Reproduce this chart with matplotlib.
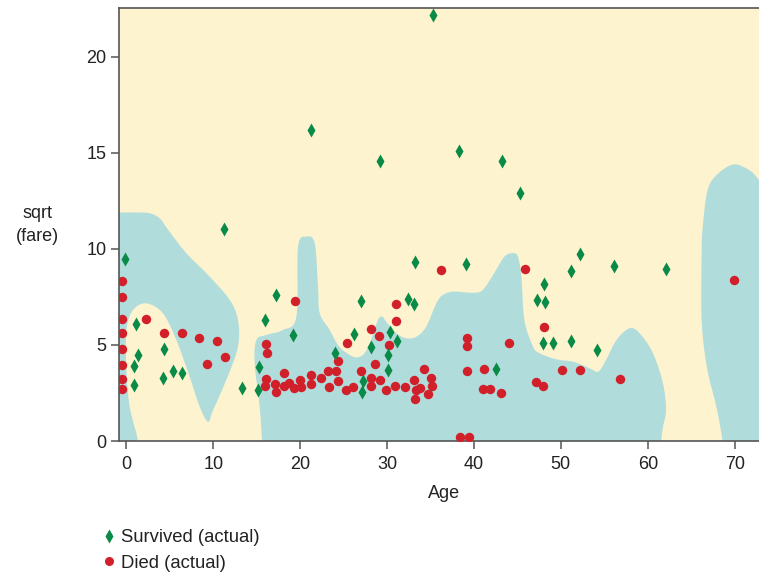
import matplotlib
matplotlib.use('Agg')
import matplotlib.pyplot as plt
from matplotlib.patches import PathPatch
from matplotlib.path import Path
from matplotlib.lines import Line2D
import numpy as np

plt.rcParams['font.family'] = ['Liberation Sans', 'DejaVu Sans']

# passengers: (age, sqrt(fare))
survived = [(-0.2, 9.5), (1.07, 6.1), (1.3, 4.5), (0.87, 3.9), (0.84, 2.9),
            (4.3, 4.8), (4.2, 3.3), (5.4, 3.66), (6.4, 3.56), (11.2, 11.05),
            (13.3, 2.74), (15.1, 2.66), (15.3, 3.87), (16.0, 6.3), (17.2, 7.6),
            (19.2, 5.5), (21.2, 16.2), (35.3, 22.2), (29.2, 14.6), (38.3, 15.1),
            (43.2, 14.6), (45.3, 12.9), (33.2, 9.34), (39.1, 9.2), (27.0, 7.28),
            (32.4, 7.41), (33.1, 7.15), (26.2, 5.57), (30.3, 5.66), (31.1, 5.22),
            (28.1, 4.91), (24.0, 4.58), (30.1, 4.48), (30.1, 3.7), (27.2, 3.13),
            (27.1, 2.55), (42.5, 3.73), (47.2, 7.34), (52.2, 9.74), (56.1, 9.11),
            (62.1, 8.94), (51.2, 8.84), (48.1, 8.18), (48.2, 7.22), (47.9, 5.1),
            (49.1, 5.09), (51.2, 5.21), (54.1, 4.74)]

died = [(-0.46, 8.33), (-0.46, 7.5), (-0.46, 6.34), (-0.46, 5.6), (-0.46, 4.78),
        (-0.46, 3.96), (-0.46, 3.21), (-0.46, 2.69), (2.3, 6.34), (4.3, 5.6),
        (6.4, 5.6), (8.35, 5.38), (10.4, 5.22), (9.24, 4.0), (11.3, 4.4),
        (19.4, 7.3), (16.1, 5.03), (16.2, 4.6), (16.1, 3.24), (16.0, 2.86),
        (17.1, 2.97), (17.2, 2.57), (18.1, 3.53), (18.1, 2.88), (18.7, 3.0),
        (19.25, 2.74), (20.0, 3.16), (20.1, 2.83), (21.2, 3.42), (21.2, 2.97),
        (22.4, 3.26), (23.2, 3.66), (23.3, 2.8), (36.2, 8.9), (45.9, 8.94),
        (31.0, 7.14), (31.0, 6.23), (28.1, 5.82), (29.1, 5.48), (25.4, 5.09),
        (30.2, 5.02), (24.4, 4.15), (28.65, 4.03), (24.1, 3.66), (27.0, 3.63),
        (34.2, 3.75), (35.1, 3.3), (24.3, 3.14), (25.3, 2.66), (26.1, 2.83),
        (28.2, 3.26), (28.2, 2.86), (29.2, 3.18), (29.9, 2.64), (30.9, 2.86),
        (32.1, 2.8), (33.1, 3.19), (33.3, 2.66), (33.8, 2.74), (33.2, 2.19),
        (34.7, 2.43), (35.2, 2.86), (39.2, 5.36), (39.2, 4.95), (39.2, 3.66),
        (41.2, 3.73), (41.0, 2.71), (41.8, 2.71), (43.1, 2.52), (44.0, 5.09),
        (47.1, 3.09), (38.35, 0.19), (39.4, 0.19), (69.9, 8.4), (48.1, 5.92),
        (50.1, 3.7), (52.2, 3.71), (47.9, 2.86), (56.8, 3.24)]

# predicted "died" regions (outline)
region_left = [(-4, -1), (1.45, -1), (1.34, 0.0), (0.38, 1.79), (0.0, 3.7),
               (0.0, 5.78), (0.76, 6.82), (2.3, 7.17), (4.2, 6.65), (5.75, 5.26),
               (7.28, 3.35), (8.43, 1.79), (9.39, 1.0), (9.97, 1.61), (11.5, 3.18),
               (12.84, 4.91), (12.84, 6.3), (11.9, 7.34), (9.59, 8.56), (6.9, 9.78),
               (4.8, 11.0), (3.83, 11.6), (2.68, 11.86), (1.2, 11.9), (-0.3, 11.9),
               (-1.5, 11.9), (-4, 11.9)]

region_middle = [(15.6, -1), (15.6, 0.0), (15.34, 1.79), (14.76, 4.05), (14.96, 5.26),
                 (16.1, 5.52), (18.0, 5.78), (19.56, 6.47), (19.75, 10.1), (20.7, 10.64),
                 (21.67, 10.3), (22.05, 8.04), (22.25, 6.65), (23.4, 5.78), (24.5, 4.91),
                 (26.1, 4.39), (27.2, 4.48), (28.0, 5.09), (28.95, 6.3), (29.46, 6.47),
                 (29.9, 6.21), (31.07, 5.61), (32.2, 5.35), (33.37, 5.43), (34.5, 5.95),
                 (35.67, 7.17), (36.4, 7.6), (37.6, 7.78), (39.9, 7.72), (41.0, 7.86),
                 (42.2, 8.65), (43.5, 9.6), (44.5, 9.78), (45.06, 9.6), (45.45, 8.56),
                 (45.8, 6.3), (46.8, 4.91), (47.56, 4.57), (49.5, 4.25), (51.4, 4.13),
                 (53.3, 3.79), (54.3, 3.61), (55.2, 4.22), (56.4, 5.26), (57.9, 5.87),
                 (59.07, 5.61), (60.6, 4.57), (61.75, 3.0), (62.1, 1.61), (61.75, 0.74),
                 (61.56, 0.0), (61.56, -1)]

region_right = [(68.6, -1), (68.6, 0.0), (67.9, 1.77), (66.8, 3.85), (66.2, 6.3),
                (66.2, 9.8), (66.3, 11.0), (66.8, 12.9), (67.7, 13.75), (69.8, 14.4),
                (71.7, 14.1), (72.8, 13.6), (75, 12.5), (75, -1)]

x_ticks = [0, 10, 20, 30, 40, 50, 60, 70]
y_ticks = [0, 5, 10, 15, 20]

TEAL = '#b0dcdc'
CREAM = '#fdf3cf'
GREEN = '#0a8a47'
RED = '#d2202a'
GREY = '#555555'
TEXT = '#222222'


def smooth_outline(points):
    # closed catmull-rom outline through the traced points, as bezier path
    pts = np.array(points, dtype=float)
    n = len(pts)
    verts = [pts[0]]
    codes = [Path.MOVETO]
    for i in range(n):
        p0, p1, p2, p3 = pts[i - 1], pts[i], pts[(i + 1) % n], pts[(i + 2) % n]
        verts += [p1 + (p2 - p0) / 6, p2 - (p3 - p1) / 6, p2]
        codes += [Path.CURVE4] * 3
    return Path(verts, codes)


fig = plt.figure(figsize=(7.59, 5.72), dpi=100)
ax = fig.add_axes([119 / 759, (572 - 441) / 572, 640 / 759, 433 / 572])
ax.set_facecolor(CREAM)

for region in (region_left, region_middle, region_right):
    ax.add_patch(PathPatch(smooth_outline(region), facecolor=TEAL,
                           edgecolor='none', zorder=0.5))

died = np.array(died)
survived = np.array(survived)
ax.plot(died[:, 0], died[:, 1], 'o', color=RED, ms=6.8, mec='none', zorder=3)
ax.plot(survived[:, 0], survived[:, 1], 'd', color=GREEN, ms=7.5, mec='none',
        zorder=4)

ax.set_xlim(-0.85, 72.8)
ax.set_ylim(0, 22.55)
ax.set_xticks(x_ticks)
ax.set_yticks(y_ticks)
ax.tick_params(direction='out', length=6, width=1.1, color=GREY,
               labelsize=13, labelcolor=TEXT, pad=3)
ax.tick_params(axis='x', pad=5)

for side in ('left', 'bottom', 'top'):
    ax.spines[side].set_color(GREY)
    ax.spines[side].set_linewidth(1.2)
ax.spines['right'].set_visible(False)

ax.set_xlabel('Age', fontsize=13, color=TEXT)
ax.xaxis.set_label_coords(0.508, -0.101)
ax.set_ylabel('sqrt\n(fare)', fontsize=13, color=TEXT, rotation=0,
              ha='center', va='center', linespacing=1.45)
ax.yaxis.set_label_coords(-0.127, 0.499)

handles = [Line2D([], [], ls='none', marker='d', color=GREEN, ms=7, mec='none'),
           Line2D([], [], ls='none', marker='o', color=RED, ms=6.5, mec='none')]
fig.legend(handles, ['Survived (actual)', 'Died (actual)'], loc='upper left',
           bbox_to_anchor=(0.134, 0.075), frameon=False, fontsize=13.3,
           handlelength=0.8, handletextpad=0.27, borderpad=0, borderaxespad=0,
           labelspacing=0.47, labelcolor=TEXT)

fig.savefig('out.png', dpi=100)
